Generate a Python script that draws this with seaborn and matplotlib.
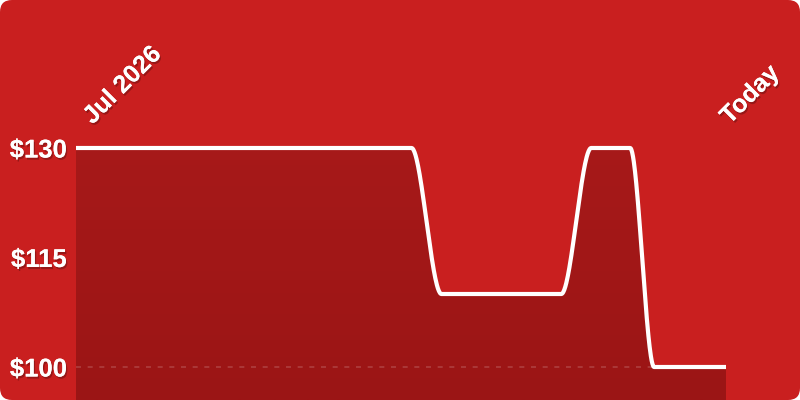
import numpy as np
import pandas as pd
import seaborn as sns
import matplotlib
matplotlib.use("Agg")
import matplotlib.pyplot as plt
import matplotlib.patheffects as pe
from matplotlib.patches import FancyBboxPatch
from matplotlib.colors import LinearSegmentedColormap

# price history, days since Jul 2026
days = [0, 112, 122, 162, 172, 185, 193, 217]
prices = [130, 130, 110, 110, 130, 130, 100, 100]
yticks = [100, 115, 130]
ytick_labels = ["$100", "$115", "$130"]
x_labels = ["Jul 2026", "Today"]

BG = "#C91F1F"


def monotone_curve(x, y, n=60):
    # monotone cubic (like d3 curveMonotoneX), only used to draw the line smooth
    x = np.asarray(x, float)
    y = np.asarray(y, float)
    h = np.diff(x)
    s = np.diff(y) / h
    m = np.zeros(len(x))
    for i in range(1, len(x) - 1):
        p = (s[i - 1] * h[i] + s[i] * h[i - 1]) / (h[i - 1] + h[i])
        m[i] = (np.sign(s[i - 1]) + np.sign(s[i])) * min(abs(s[i - 1]), abs(s[i]), 0.5 * abs(p))
    m[0] = s[0]
    m[-1] = s[-1]
    xs, ys = [], []
    for i in range(len(x) - 1):
        t = np.linspace(0, 1, n)
        h00 = 2 * t**3 - 3 * t**2 + 1
        h10 = t**3 - 2 * t**2 + t
        h01 = -2 * t**3 + 3 * t**2
        h11 = t**3 - t**2
        xs.append(x[i] + t * h[i])
        ys.append(h00 * y[i] + h10 * h[i] * m[i] + h01 * y[i + 1] + h11 * h[i] * m[i + 1])
    return np.concatenate(xs), np.concatenate(ys)


cx, cy = monotone_curve(days, prices)
df = pd.DataFrame({"day": cx, "price": cy})

sns.set_style("white")
plt.rcParams["font.family"] = ["Liberation Sans", "DejaVu Sans"]

fig = plt.figure(figsize=(8, 4), dpi=100)
fig.patch.set_facecolor("white")
fig.patches.append(FancyBboxPatch((0, 0), 800, 400, boxstyle="round,pad=0,rounding_size=12",
                                  transform=None, facecolor=BG, edgecolor="none", zorder=-10))

ax = fig.add_axes([76 / 800, 0, 650 / 800, 0.75])
ax.set_facecolor("none")
px = 219 / 30.0
ax.set_xlim(days[0], days[-1])
ax.set_ylim(100 - 33 / px, 130 + 48 / px)

# gradient fill under the line
cmap = LinearSegmentedColormap.from_list("fill", ["#9B1515", "#A91A1A"])
grad = np.linspace(0, 1, 256).reshape(-1, 1)
ymin, ymax = ax.get_ylim()
img = ax.imshow(grad, cmap=cmap, aspect="auto", extent=[days[0], days[-1], ymax, ymin],
                origin="upper", zorder=1)
poly = ax.fill_between(df["day"], df["price"], ymin, color="none", lw=0)
clip = poly.get_paths()[0]
img.set_clip_path(clip, transform=ax.transData)

ax.axhline(100, color="white", alpha=0.18, lw=1.2, ls=(0, (3, 4)), zorder=2)

sns.lineplot(data=df, x="day", y="price", color="white", lw=3.0, ax=ax, zorder=3,
             solid_capstyle="butt", solid_joinstyle="round")

shadow = [pe.withSimplePatchShadow(offset=(1, -1.5), shadow_rgbFace="black", alpha=0.25), pe.Normal()]

ax.set_yticks(yticks)
ax.set_yticklabels(ytick_labels)
ax.set_xticks([])
ax.tick_params(axis="y", length=0, pad=6.5, labelsize=18.5, labelcolor="white")
for t in ax.get_yticklabels():
    t.set_fontweight("bold")
    t.set_path_effects(shadow)
ax.set_xlabel("")
ax.set_ylabel("")
sns.despine(ax=ax, left=True, bottom=True)

for d, lab, off in zip([days[0], days[-1]], x_labels, [5.5, 1.2]):
    ax.text(d + off, 130 + 23 / px, lab, rotation=45, rotation_mode="anchor", ha="left", va="baseline",
            color="white", fontsize=18, fontweight="bold", path_effects=shadow, clip_on=False)

fig.savefig("out.png", dpi=100, facecolor=fig.get_facecolor())
